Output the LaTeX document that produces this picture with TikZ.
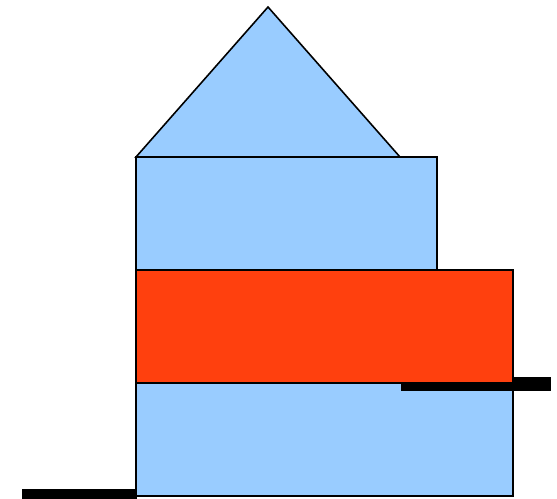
\documentclass[tikz,border=0pt]{standalone}
\usepackage{tikz}

\definecolor{wallblue}{RGB}{153,204,255}
\definecolor{floorred}{RGB}{255,64,14}

\begin{document}
\begin{tikzpicture}[x=0.02cm, y=-0.02cm, line join=miter,
    part/.style={draw=black, line width=0.9pt},
    ground/.style={fill=black, draw=none}]
    \useasboundingbox (0,0) rectangle (557,499);
    % roof and upper storey
    \draw[part, fill=wallblue] (136,157) -- (268,7) -- (400,157) -- cycle;
    \draw[part, fill=wallblue] (136,157) rectangle (437,270);
    % lower storey with its ground levels
    \draw[part, fill=wallblue] (136,383) rectangle (513,496);
    \fill[ground] (401,377) rectangle (551,391);
    \fill[ground] (22,489) rectangle (137,499);
    % middle band
    \draw[part, fill=floorred] (136,270) rectangle (513,383);
\end{tikzpicture}
\end{document}
